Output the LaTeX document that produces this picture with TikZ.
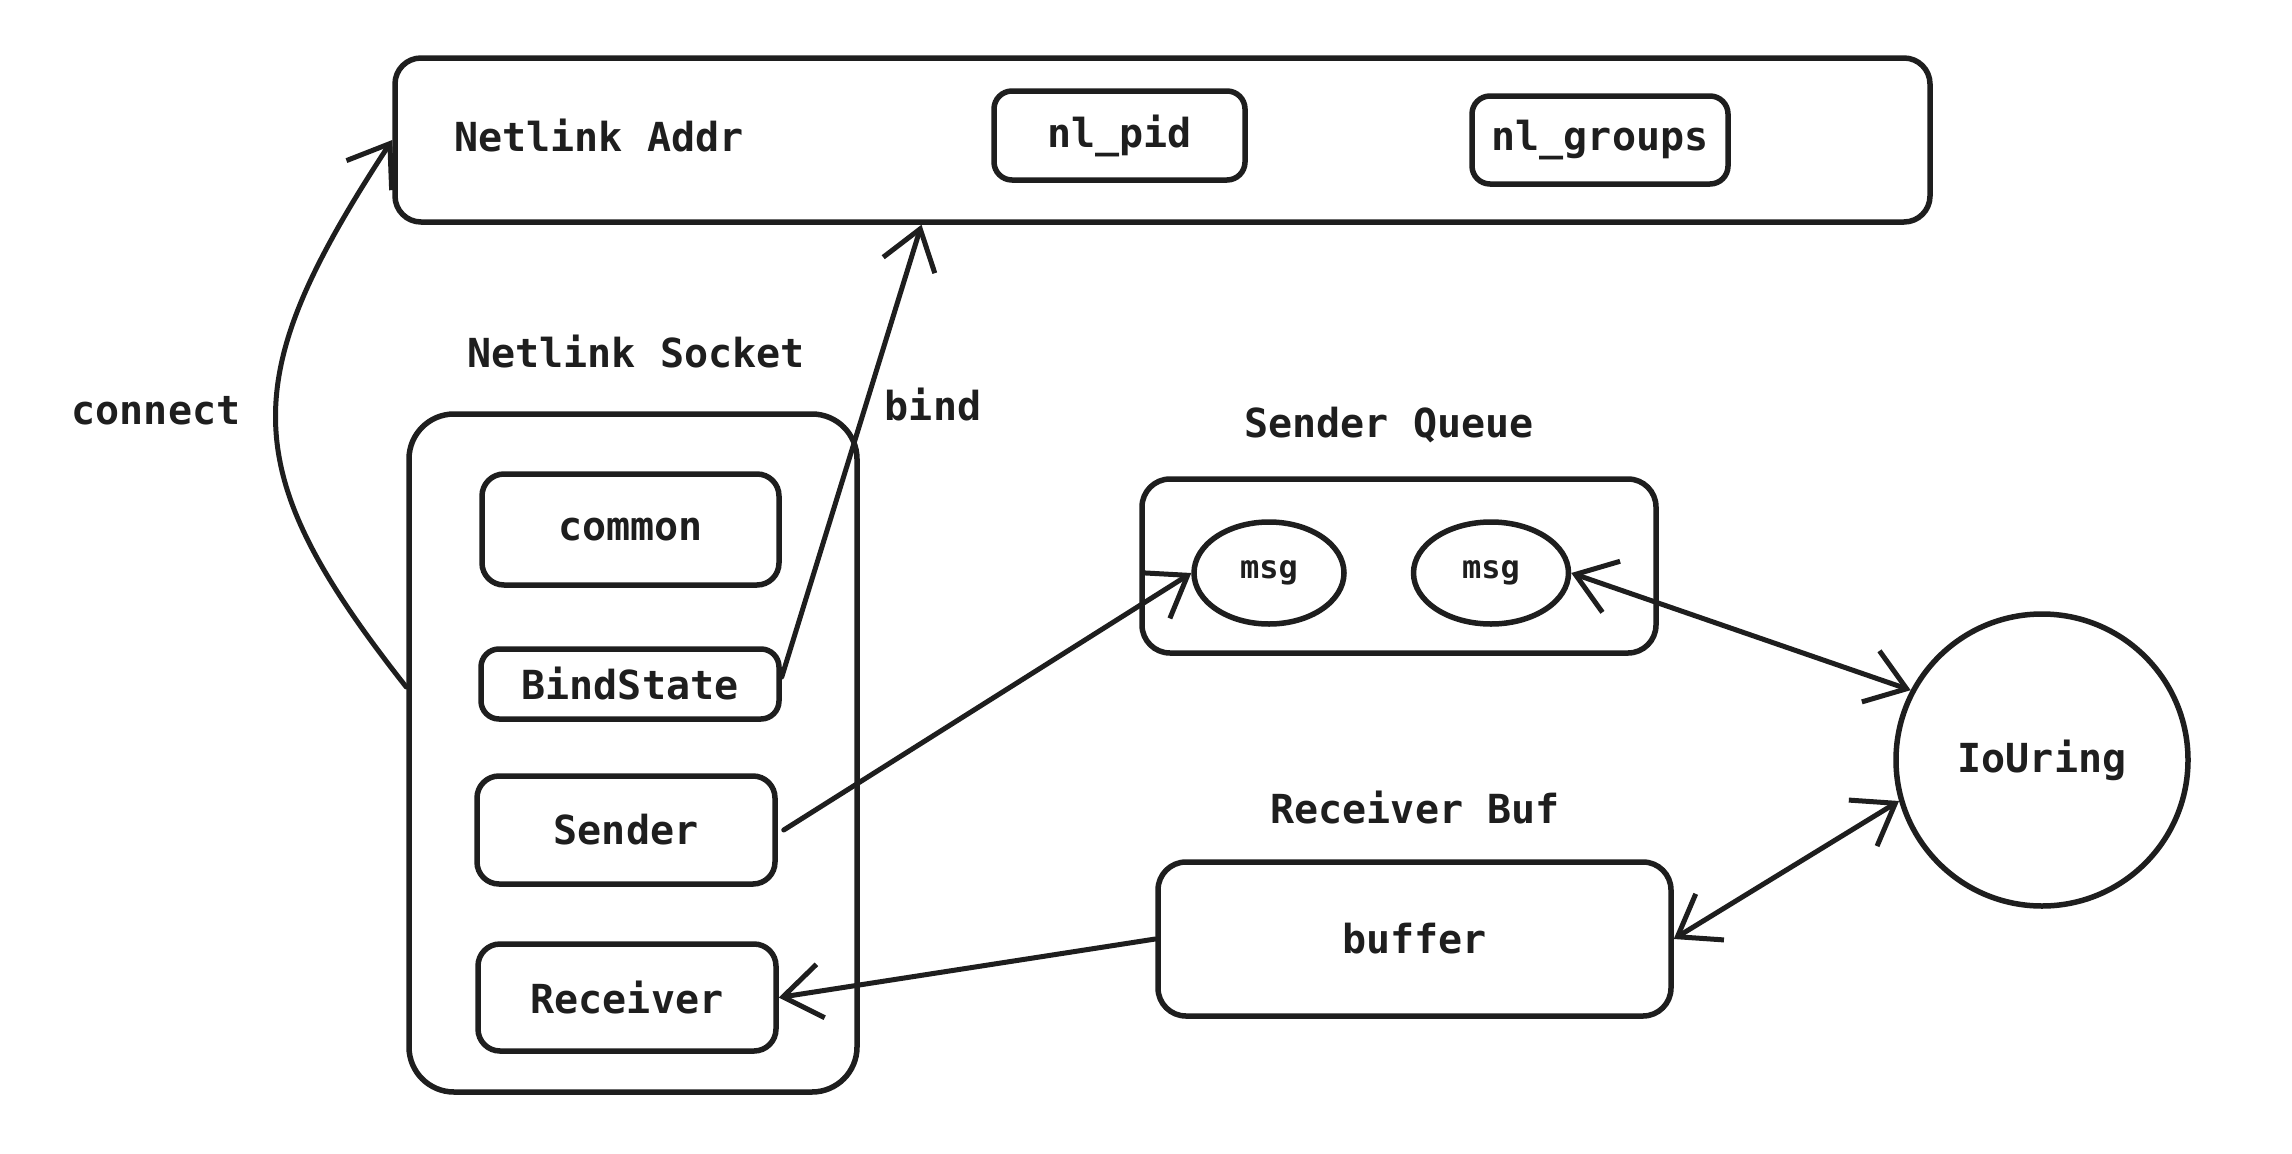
\documentclass[tikz,border=0pt]{standalone}
\usepackage{fontspec}
\setmonofont{DejaVu Sans Mono}
\usetikzlibrary{arrows.meta,shapes.geometric,calc}
\definecolor{ink}{HTML}{1E1E1E}
\begin{document}
\begin{tikzpicture}[x=1pt,y=-1pt,
  every node/.style={font=\ttfamily\bfseries\fontsize{40}{44}\selectfont, text=ink},
  box/.style={draw=ink, line width=5.5pt, rounded corners=22pt, inner sep=0pt},
  oval/.style={draw=ink, line width=5.5pt, ellipse, inner sep=0pt, font=\ttfamily\bfseries\fontsize{32}{36}\selectfont},
  lbl/.style={inner sep=0pt},
  arr/.style={draw=ink, line width=5pt, line cap=round, -{Straight Barb[length=38pt,width=54pt,line width=5pt]}},
  darr/.style={draw=ink, line width=5pt, line cap=round, {Straight Barb[length=38pt,width=54pt,line width=5pt]}-{Straight Barb[length=38pt,width=54pt,line width=5pt]}}
]
\useasboundingbox (0,0) rectangle (2292,1154);
\fill[white] (0,0) rectangle (2292,1154);

% Netlink Addr
\node[box, rounded corners=26pt, minimum width=1535pt, minimum height=164pt] (addr) at (1162.5,140) {};
\node[lbl] (addrlbl) at (599,136) {Netlink Addr};
\node[box, rounded corners=18pt, minimum width=251pt, minimum height=89pt] (pid) at (1119.5,135.5) {nl\_pid};
\node[box, rounded corners=18pt, minimum width=256pt, minimum height=88pt] (groups) at (1600,140) {nl\_groups};

% Netlink Socket
\node[lbl] (socklbl) at (636,352) {Netlink Socket};
\node[box, rounded corners=45pt, minimum width=448pt, minimum height=678pt] (sock) at (633,753) {};
\node[box, minimum width=297pt, minimum height=111pt] (common) at (630.5,529.5) {common};
\node[box, rounded corners=18pt, minimum width=298pt, minimum height=70pt] (bindst) at (630,684) {BindState};
\node[box, minimum width=298pt, minimum height=108pt] (sender) at (626,830) {Sender};
\node[box, minimum width=298pt, minimum height=107pt] (receiver) at (627,997.5) {Receiver};

% Sender Queue
\node[lbl] (sqlbl) at (1389,425) {Sender Queue};
\node[box, rounded corners=28pt, minimum width=514pt, minimum height=174pt] (sq) at (1399,566) {};
\node[oval, minimum width=150pt, minimum height=102pt] (msga) at (1269,573) {msg};
\node[oval, minimum width=155pt, minimum height=102pt] (msgb) at (1491,573) {msg};

% IoUring
\node[draw=ink, line width=5.5pt, circle, minimum size=292pt, inner sep=0pt] (io) at (2042,760) {IoUring};

% Receiver Buf
\node[lbl] (rblbl) at (1415,808) {Receiver Buf};
\node[box, rounded corners=28pt, minimum width=513pt, minimum height=154pt] (buf) at (1414.5,939) {buffer};

% labels
\node[lbl] (connectlbl) at (156,411) {connect};
\node[lbl] (bindlbl) at (933,405) {bind};

% connectors
\draw[arr] ([yshift=66pt]sock.west) .. controls (235,470) and (235,380) .. (addr.west);
\draw[arr] ([yshift=7pt]bindst.east) -- ([xshift=-241pt]addr.south);
\draw[arr] ([xshift=6pt]sender.east) -- (msga.west);
\draw[darr] (msgb.east) -- (io.152);
\draw[darr] (buf.east) -- (io.196);
\draw[arr] (buf.west) -- (receiver.east);
\end{tikzpicture}
\end{document}
